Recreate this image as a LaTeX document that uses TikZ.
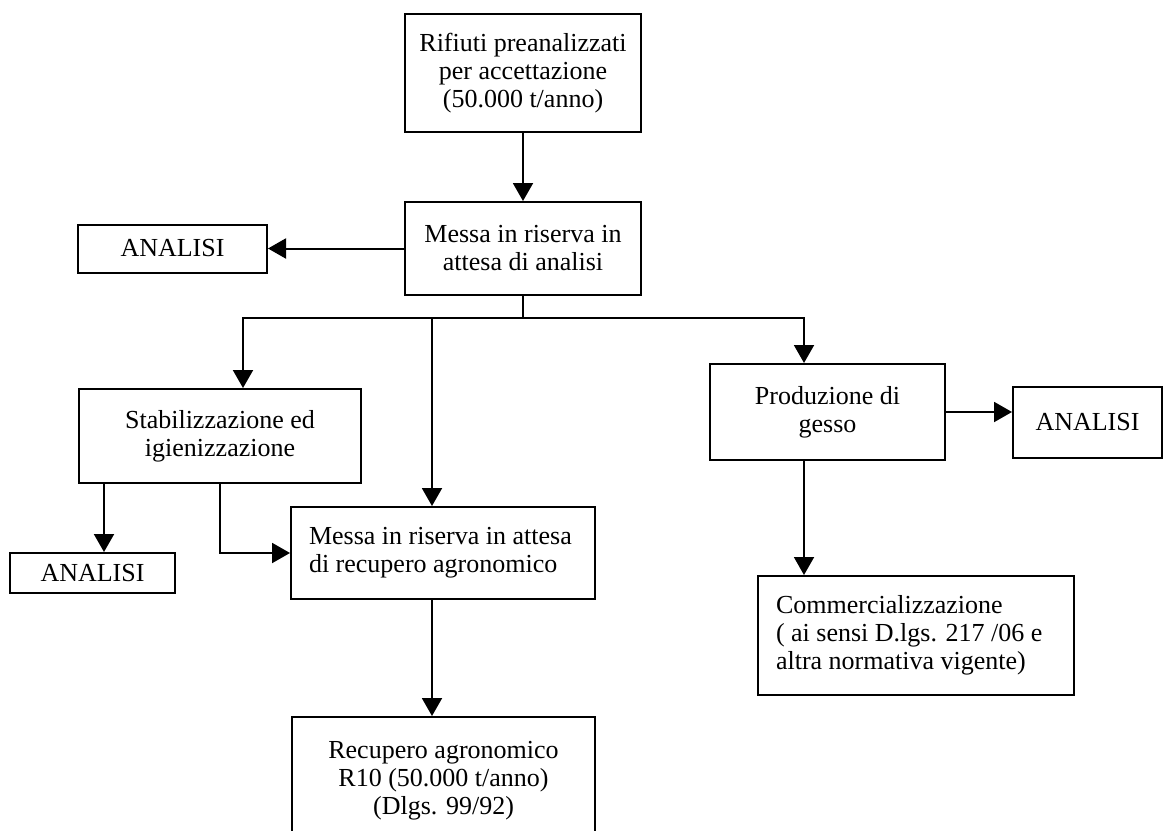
\documentclass[tikz,border=0pt]{standalone}
\usepackage{fontspec}
\setmainfont{Liberation Serif}
\usetikzlibrary{arrows.meta,positioning,calc}

\begin{document}
\begin{tikzpicture}[
    x=0.5pt, y=-0.5pt,
    font=\fontsize{13}{14}\selectfont,
    box/.style={rectangle, draw=black, line width=1pt, fill=white,
      inner sep=2pt, align=center},
    lbox/.style={box, align=flush left},
    arr/.style={-{Triangle[width=10pt,length=9pt]}, line width=1pt, draw=black}
  ]
    \useasboundingbox (0,0) rectangle (1170,830);
    \fill[white] (0,0) rectangle (1170,830);
    \clip (0,0) rectangle (1170,830);

    \node[box, minimum width=118pt, minimum height=59pt] (in) at (523,73) {Rifiuti preanalizzati\\per accettazione\\(50.000 t/anno)};
    \node[box, minimum width=118pt, minimum height=46.5pt] (msa) at (523,248.5) {Messa in riserva in\\attesa di analisi};
    \node[box, minimum width=94.5pt, minimum height=24pt] (an1) at (172.5,248.5) {ANALISI};

    \node[box, minimum width=141pt, minimum height=47pt] (stab) at (220,436) {Stabilizzazione ed\\igienizzazione};
    \node[box, minimum width=82.5pt, minimum height=20pt] (an2) at (92.5,573) {ANALISI};
    \node[lbox, text width=134pt, inner xsep=9pt, minimum height=46pt] (mag) at (443,553) {Messa in riserva in attesa\\di recupero agronomico};
    \node[box, minimum width=151.5pt, minimum height=64pt] (rec) at (443.5,781) {Recupero agronomico\\R10 (50.000 t/anno)\\(Dlgs. 99/92)};

    \node[box, minimum width=117.5pt, minimum height=48pt] (prod) at (827.5,412) {Produzione di\\gesso};
    \node[box, minimum width=74.5pt, minimum height=35.5pt] (an3) at (1087.5,422.5) {ANALISI};
    \node[lbox, text width=140pt, inner xsep=9pt, minimum height=59.5pt] (com) at (916,635.5) {Commercializzazione\\( ai sensi D.lgs. 217 /06 e\\altra normativa vigente)};

    \coordinate (split) at (523,318);

    \draw[arr] (in) -- (msa);
    \draw[arr] (msa.west) -- (msa.west -| an1.east);
    \draw[line width=1pt] (msa.south) -- (split);
    \draw[arr] (split) -| ([xshift=11.5pt]stab.north);
    \draw[arr] (split) -| ([xshift=-5.5pt]mag.north);
    \draw[arr] (split) -| ([xshift=-11.75pt]prod.north);

    \draw[arr] ([xshift=5.75pt]an2.north |- stab.south) -- ([xshift=5.75pt]an2.north);
    \draw[arr] (stab.south) |- (mag.west);
    \draw[arr] ([xshift=-5.5pt]mag.south) -- ([xshift=-5.5pt]mag.south |- rec.north);

    \draw[arr] (prod.east) -- (prod.east -| an3.west);
    \draw[arr] ([xshift=-11.75pt]prod.south) -- ([xshift=-11.75pt]prod.south |- com.north);
\end{tikzpicture}
\end{document}
